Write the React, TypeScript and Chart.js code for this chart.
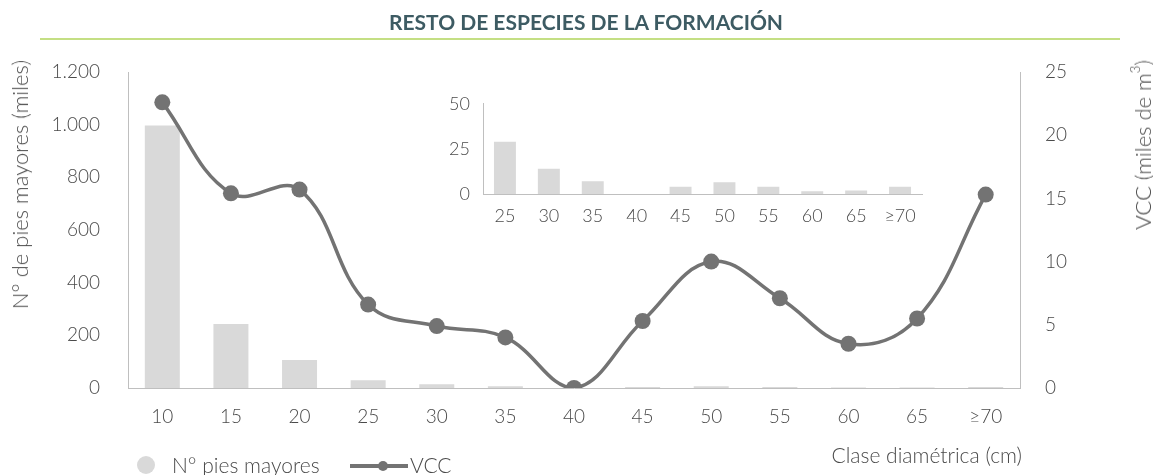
import React, { useEffect, useRef } from "react";
import { Chart, registerables } from "chart.js";

Chart.register(...registerables);

const categories = ["10", "15", "20", "25", "30", "35", "40", "45", "50", "55", "60", "65", "≥70"];
const piesMayores = [997, 243, 106, 29, 14, 7, 0, 4, 6.5, 4, 1.5, 2, 4];
const vcc = [22.6, 15.4, 15.7, 6.6, 4.9, 4.0, 0, 5.3, 10.0, 7.1, 3.5, 5.5, 15.3];
const insetCategories = categories.slice(3);
const insetPies = piesMayores.slice(3);
const leftTicks = [0, 200, 400, 600, 800, 1000, 1200];
const rightTicks = [0, 5, 10, 15, 20, 25];

const FONT = "Lato, 'Open Sans', sans-serif";
const TXT = "#4a4a4a";
const AXIS = "#bfbfbf";
const BAR = "#d9d9d9";
const LINE = "#737373";

function fmt(v: number) {
  return String(v).replace(/\B(?=(\d{3})+(?!\d))/g, ".");
}

export default function App() {
  const mainRef = useRef<HTMLCanvasElement | null>(null);
  const insetRef = useRef<HTMLCanvasElement | null>(null);

  useEffect(() => {
    document.body.style.margin = "0";
    const tickFont = { family: FONT, size: 19, weight: 300 as any };
    const main = new Chart(mainRef.current!, {
      type: "bar",
      data: {
        labels: categories,
        datasets: [
          {
            type: "line",
            label: "VCC",
            data: vcc,
            yAxisID: "y1",
            borderColor: LINE,
            backgroundColor: LINE,
            borderWidth: 3.5,
            pointRadius: 8,
            pointHoverRadius: 8,
            pointBackgroundColor: LINE,
            pointBorderColor: LINE,
            pointBorderWidth: 0,
            tension: 0.4,
            order: 0,
          } as any,
          {
            type: "bar",
            label: "N° pies mayores",
            data: piesMayores,
            yAxisID: "y",
            backgroundColor: BAR,
            categoryPercentage: 1,
            barPercentage: 0.51,
            order: 1,
          },
        ],
      },
      options: {
        animation: false,
        responsive: false,
        maintainAspectRatio: false,
        layout: { padding: { top: 72, left: 0, right: 0, bottom: 0 } },
        plugins: { legend: { display: false }, tooltip: { enabled: false }, title: { display: false } },
        scales: {
          x: {
            grid: { display: false, drawTicks: false },
            border: { display: true, color: AXIS, width: 1 },
            ticks: { color: TXT, font: tickFont, padding: 17, maxRotation: 0, autoSkip: false },
            afterFit: (s: any) => { s.height = 87; },
          },
          y: {
            position: "left",
            min: 0,
            max: 1200,
            grid: { display: false, drawTicks: false },
            border: { display: true, color: AXIS, width: 1 },
            afterBuildTicks: (s: any) => { s.ticks = leftTicks.map((v) => ({ value: v })); },
            ticks: { color: TXT, font: tickFont, padding: 28, callback: (v: any) => fmt(Number(v)) },
            afterFit: (s: any) => { s.width = 128; },
          },
          y1: {
            position: "right",
            min: 0,
            max: 25,
            grid: { display: false, drawTicks: false },
            border: { display: true, color: AXIS, width: 1 },
            afterBuildTicks: (s: any) => { s.ticks = rightTicks.map((v) => ({ value: v })); },
            ticks: { color: TXT, font: tickFont, padding: 25 },
            afterFit: (s: any) => { s.width = 133; },
          },
        },
      } as any,
    });

    const inset = new Chart(insetRef.current!, {
      type: "bar",
      data: {
        labels: insetCategories,
        datasets: [
          {
            label: "N° pies mayores",
            data: insetPies,
            backgroundColor: BAR,
            categoryPercentage: 1,
            barPercentage: 0.5,
          },
        ],
      },
      options: {
        animation: false,
        responsive: false,
        maintainAspectRatio: false,
        layout: { padding: { top: 16, left: 0, right: 8, bottom: 0 } },
        plugins: { legend: { display: false }, tooltip: { enabled: false } },
        scales: {
          x: {
            grid: { display: false, drawTicks: false },
            border: { display: true, color: AXIS, width: 1 },
            ticks: { color: TXT, font: { family: FONT, size: 18, weight: 300 as any }, padding: 11, maxRotation: 0, autoSkip: false },
            afterFit: (s: any) => { s.height = 36; },
          },
          y: {
            min: 0,
            max: 50,
            grid: { display: false, drawTicks: false },
            border: { display: true, color: AXIS, width: 1 },
            ticks: { color: TXT, font: { family: FONT, size: 18, weight: 300 as any }, padding: 13, stepSize: 25 },
            afterFit: (s: any) => { s.width = 53; },
          },
        },
      } as any,
    });

    return () => {
      main.destroy();
      inset.destroy();
    };
  }, []);

  const txt: React.CSSProperties = {
    position: "absolute",
    fontFamily: FONT,
    fontWeight: 300,
    fontSize: 21,
    color: TXT,
    whiteSpace: "nowrap",
    lineHeight: "24px",
  };

  return (
    <div style={{ position: "relative", width: 1153, height: 475, background: "#fff", overflow: "hidden" }}>
      <canvas ref={mainRef} width={1153} height={475} style={{ position: "absolute", left: 0, top: 0 }} />
      <canvas ref={insetRef} width={500} height={150} style={{ position: "absolute", left: 430, top: 80 }} />
      <div
        style={{
          position: "absolute",
          left: 0,
          width: 1172,
          top: 10,
          textAlign: "center",
          fontFamily: FONT,
          fontWeight: 700,
          fontSize: 21,
          color: "#3d5b63",
          lineHeight: "24px",
        }}
      >
        RESTO DE ESPECIES DE LA FORMACIÓN
      </div>
      <div style={{ position: "absolute", left: 40, width: 1080, top: 38, height: 2, background: "#c4df84" }} />
      <div style={{ ...txt, fontSize: 22, left: 8, top: 60, writingMode: "vertical-rl", transform: "rotate(180deg)" }}>
        N° de pies mayores (miles)
      </div>
      <div style={{ ...txt, fontSize: 22, left: 1131, top: 60, writingMode: "vertical-rl", transform: "rotate(180deg)" }}>
        VCC (miles de m<sup style={{ fontSize: 13, lineHeight: 0 }}>3</sup>)
      </div>
      <div style={{ ...txt, right: 1153 - 1022, top: 443 }}>Clase diamétrica (cm)</div>
      <div style={{ position: "absolute", left: 137, top: 456, width: 18, height: 18, borderRadius: 9, background: BAR }} />
      <div style={{ ...txt, left: 172, top: 453 }}>N° pies mayores</div>
      <div style={{ position: "absolute", left: 350, top: 464, width: 58, height: 4, background: LINE }} />
      <div style={{ position: "absolute", left: 378, top: 461, width: 10, height: 10, borderRadius: 5, background: LINE }} />
      <div style={{ ...txt, left: 410, top: 453 }}>VCC</div>
    </div>
  );
}
